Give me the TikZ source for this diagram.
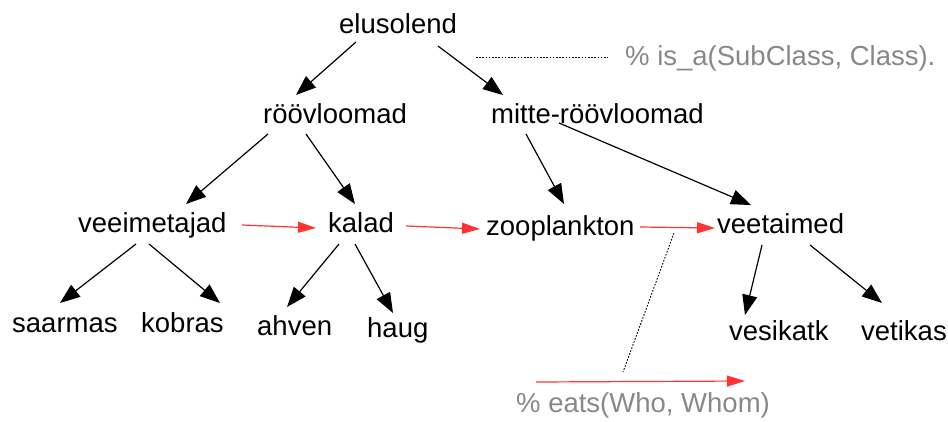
\documentclass[tikz,border=0pt]{standalone}
\usepackage{fontspec}
\setmainfont{Liberation Sans}
\usetikzlibrary{arrows.meta,calc}
\definecolor{eatred}{HTML}{FF3333}
\definecolor{notegray}{HTML}{888888}
\tikzset{
  lbl/.style={anchor=base west,inner sep=0pt,font=\fontsize{27.5}{32}\selectfont},
  note/.style={lbl,text=notegray},
  isa/.style={line width=1.2pt,-{Triangle[length=20pt,width=15pt]}},
  eats/.style={line width=1.2pt,draw=eatred,-{Triangle[length=18pt,width=11pt]},color=eatred},
  hint/.style={line width=0.9pt,dash pattern=on 1.6pt off 1.6pt}
}
\begin{document}
\begin{tikzpicture}[x=1pt,y=-1pt]
\useasboundingbox (0,0) rectangle (948,421);
% nodes
\node[lbl] (elus) at (339,33) {elusolend};
\node[note] (isa) at (625,65) {\% is\_a(SubClass, Class).};
\node[lbl] (roov) at (263,123) {röövloomad};
\node[lbl] (mitte) at (491,123) {mitte-röövloomad};
\node[lbl] (veeim) at (78,232) {veeimetajad};
\node[lbl] (kalad) at (328,232) {kalad};
\node[lbl] (zoo) at (486,235) {zooplankton};
\node[lbl] (veet) at (717,233) {veetaimed};
\node[lbl] (saar) at (12,332) {saarmas};
\node[lbl] (kobr) at (141,332) {kobras};
\node[lbl] (ahven) at (257,335) {ahven};
\node[lbl] (haug) at (367,337) {haug};
\node[lbl] (vesik) at (729,340) {vesikatk};
\node[lbl] (vetik) at (861,340) {vetikas};
\node[note] (eatsn) at (516,412) {\% eats(Who, Whom)};
% is_a arrows
\draw[isa] ($(elus.base west)+(17,9)$) -- ($(roov.base west)+(33,-28)$);
\draw[isa] ($(elus.base west)+(99,13)$) -- ($(mitte.base west)+(12,-28)$);
\draw[isa] ($(roov.base west)+(5,11)$) -- ($(veeim.base west)+(108,-28)$);
\draw[isa] ($(roov.base west)+(43,11)$) -- ($(kalad.base west)+(27,-28)$);
\draw[isa] ($(mitte.base west)+(35,11)$) -- ($(zoo.base west)+(78,-31)$);
\draw[isa] ($(mitte.base west)+(68,0)$) -- ($(veet.base west)+(34,-28)$);
\draw[isa] ($(veeim.base west)+(58,12)$) -- ($(saar.base west)+(48,-29)$);
\draw[isa] ($(veeim.base west)+(71,12)$) -- ($(kobr.base west)+(79,-29)$);
\draw[isa] ($(kalad.base west)+(11,12)$) -- ($(ahven.base west)+(30,-28)$);
\draw[isa] ($(kalad.base west)+(27,12)$) -- ($(haug.base west)+(26,-24)$);
\draw[isa] ($(veet.base west)+(45,12)$) -- ($(vesik.base west)+(16,-25)$);
\draw[isa] ($(veet.base west)+(93,12)$) -- ($(vetik.base west)+(21,-37)$);
% eats arrows
\draw[eats] ($(veeim.base west)+(164,-7)$) -- ($(kalad.base west)+(-12,-4)$);
\draw[eats] ($(kalad.base west)+(78,-6)$) -- ($(zoo.base west)+(-6,-6)$);
\draw[eats] ($(zoo.base west)+(154,-8)$) -- ($(veet.base west)+(-2,-5)$);
% legend
\coordinate (isaL) at (476,57.5);
\coordinate (isaR) at (608,57.5);
\draw[hint] (isaL) -- (isaR);
\coordinate (eatsL) at (536,382);
\coordinate (eatsR) at (745,381);
\draw[eats] (eatsL) -- (eatsR);
\coordinate (hintTop) at (674,233);
\coordinate (hintBot) at (623,372);
\draw[hint] (hintTop) -- (hintBot);
\end{tikzpicture}
\end{document}
